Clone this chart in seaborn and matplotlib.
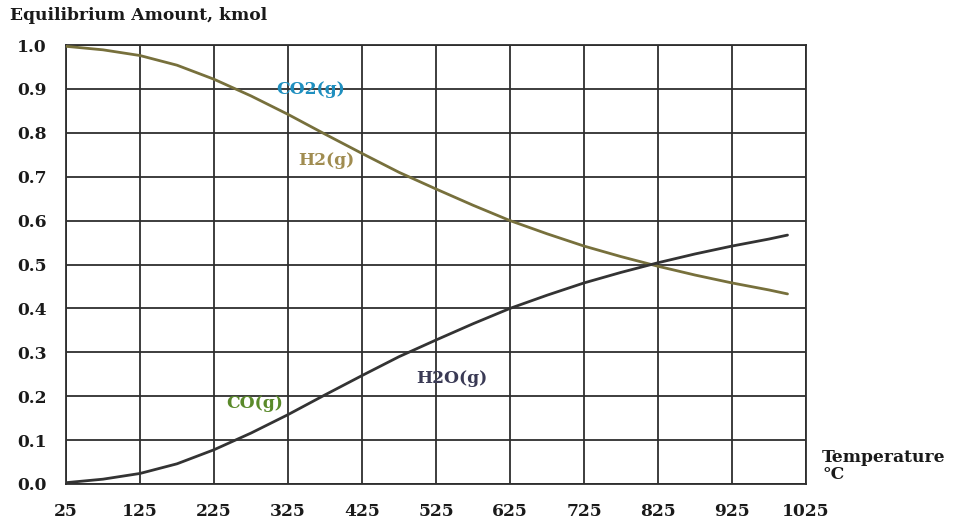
import matplotlib
matplotlib.use("Agg")
import matplotlib.pyplot as plt
import seaborn as sns
import pandas as pd

# Equilibrium composition of the water-gas shift reaction vs temperature
temperature_c = [25, 75, 125, 175, 225, 275, 325, 375, 425, 475, 525,
                 575, 625, 675, 725, 775, 825, 875, 925, 975, 1000]
co2_h2_kmol = [0.997, 0.989, 0.976, 0.954, 0.922, 0.884, 0.842, 0.797, 0.753,
               0.710, 0.672, 0.635, 0.600, 0.570, 0.542, 0.518, 0.496, 0.476,
               0.458, 0.442, 0.433]
co_h2o_kmol = [0.003, 0.011, 0.024, 0.046, 0.078, 0.116, 0.158, 0.203, 0.247,
               0.290, 0.328, 0.365, 0.400, 0.430, 0.458, 0.482, 0.504, 0.524,
               0.542, 0.558, 0.567]

x_ticks = list(range(25, 1026, 100))
y_ticks = [i / 10 for i in range(11)]

df = pd.concat([
    pd.DataFrame({"T": temperature_c, "n": co2_h2_kmol, "pair": "CO2/H2"}),
    pd.DataFrame({"T": temperature_c, "n": co_h2o_kmol, "pair": "CO/H2O"}),
])

sns.set_style("white")
plt.rcParams["font.family"] = ["DejaVu Serif"]
plt.rcParams["font.weight"] = "bold"

FS = 12.3

fig = plt.figure(figsize=(9.65, 5.23), dpi=100)
ax = fig.add_axes([66 / 965, 1 - 484 / 523, 740 / 965, 439 / 523])

sns.lineplot(data=df, x="T", y="n", hue="pair",
             palette={"CO2/H2": "#77703c", "CO/H2O": "#333333"},
             linewidth=2.0, legend=False, ax=ax, zorder=3)

ax.set_xlim(25, 1025)
ax.set_ylim(0, 1.0)
ax.set_xticks(x_ticks)
ax.set_yticks(y_ticks)
ax.set_xticklabels([str(t) for t in x_ticks])
ax.set_yticklabels([f"{v:.1f}" for v in y_ticks])
ax.grid(True, color="#2e2e2e", linewidth=1.3)
for s in ax.spines.values():
    s.set_visible(True)
    s.set_color("#2e2e2e")
    s.set_linewidth(1.3)
ax.tick_params(axis="x", direction="out", length=9, width=1.3, color="#2e2e2e",
               labelsize=FS, labelcolor="#1a1a1a", pad=5)
ax.tick_params(axis="y", direction="out", length=11, width=1.3, color="#2e2e2e",
               labelsize=FS, labelcolor="#1a1a1a", pad=3)
for lab in ax.get_xticklabels() + ax.get_yticklabels():
    lab.set_fontweight("bold")
ax.set_xlabel("")
ax.set_ylabel("")

# Species labels along the curves
ax.text(355, 0.898, "CO2(g)", color="#1f8fbf", fontsize=FS, fontweight="bold",
        ha="center", va="center")
ax.text(377, 0.736, "H2(g)", color="#a08c50", fontsize=FS, fontweight="bold",
        ha="center", va="center")
ax.text(280, 0.184, "CO(g)", color="#5a8a2a", fontsize=FS, fontweight="bold",
        ha="center", va="center")
ax.text(547, 0.241, "H2O(g)", color="#3a3a55", fontsize=FS, fontweight="bold",
        ha="center", va="center")

fig.text(10 / 965, 1 - 16 / 523, "Equilibrium Amount, kmol", fontsize=FS,
         fontweight="bold", color="#1a1a1a", ha="left", va="center")
fig.text(822 / 965, 1 - 466 / 523, "Temperature\n\u00b0C", fontsize=FS,
         fontweight="bold", color="#1a1a1a", ha="left", va="center",
         linespacing=1.05)

fig.savefig("out.png", dpi=100)
